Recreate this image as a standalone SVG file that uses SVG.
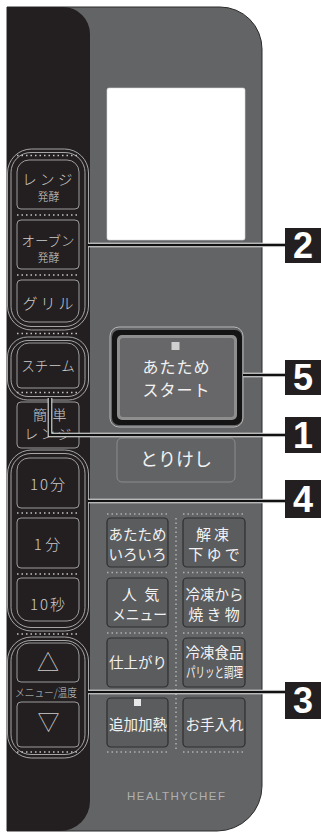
<svg xmlns="http://www.w3.org/2000/svg" width="321" height="832" viewBox="0 0 321 832">
<style>
.jp{font-family:"Noto Sans CJK JP","Noto Sans",sans-serif;text-anchor:middle}
.lt{fill:#cdcdcd;font-weight:300}
.wt{fill:#f2f2f2}
.grp{fill:none;stroke:#b4b4b4;stroke-width:0.9}
.lbtn{fill:#231f20;stroke:#a9a9a9;stroke-width:0.9}
.gbtn{fill:#5b5c5e;stroke:#2e2e2e;stroke-width:1.2}
.dotL{stroke:#c4c4c4;stroke-width:1.5;stroke-dasharray:1.5 3;fill:none}
.dotG{stroke:#b0b0b0;stroke-width:1.5;stroke-dasharray:1.5 3;fill:none}
.lbox{fill:#231f20}
.num{font-family:"Liberation Sans",Arial,sans-serif;font-weight:bold;font-size:36px;fill:#fff;text-anchor:middle}
.cw{stroke:#f0f0f0;stroke-width:4.6;fill:none}
.cb{stroke:#111;stroke-width:2.6;fill:none}
.brand{font-family:"Liberation Sans",Arial,sans-serif;font-size:11.5px;fill:#b0b0b0;text-anchor:middle}
</style>
<g id="panel">
<path d="M7,7 H220 A42,42 0 0 1 262,49 V786 A45,45 0 0 1 217,831 H7 Z" fill="#636466" stroke="#2b2b2b" stroke-width="1"/>
<path d="M7,7 H63 A27,27 0 0 1 90,34 V801 A30,30 0 0 1 60,831 H7 Z" fill="#231f20"/>
<rect x="107" y="88" width="138" height="152" rx="2" fill="#fff" stroke="#d8d8d8" stroke-width="0.6"/>
<text class="brand" x="176" y="800" textLength="98" lengthAdjust="spacing">HEALTHYCHEF</text>
</g>
<g id="group-oven">
<rect class="grp" x="7.5" y="149" width="81" height="181" rx="24"/>
<rect class="grp" x="11" y="152.5" width="74" height="174" rx="20"/>
<line class="dotL" x1="17" y1="155.5" x2="80" y2="155.5"/>
<line class="dotL" x1="17" y1="215" x2="80" y2="215"/>
<line class="dotL" x1="17" y1="275" x2="80" y2="275"/>
<line class="dotL" x1="17" y1="333.5" x2="80" y2="333.5"/>
</g>
<g id="btn-range">
<path class="lbtn" d="M29,160 H67 A12,12 0 0 1 79,172 V205 A4,4 0 0 1 75,209 H21 A4,4 0 0 1 17,205 V172 A12,12 0 0 1 29,160 Z"/>
<text class="jp lt" x="49" y="184.5" font-size="14.5" letter-spacing="3.3">レンジ</text>
<text class="jp lt" x="48.5" y="200.5" font-size="11">発酵</text>
</g>
<g id="btn-oven">
<rect class="lbtn" x="17" y="220" width="62" height="49" rx="4"/>
<text class="jp lt" x="48" y="245.5" font-size="13.5">オーブン</text>
<text class="jp lt" x="48.5" y="261.5" font-size="11">発酵</text>
</g>
<g id="btn-grill">
<path class="lbtn" d="M21,280 H75 A4,4 0 0 1 79,284 V310 A12,12 0 0 1 67,322 H29 A12,12 0 0 1 17,310 V284 A4,4 0 0 1 21,280 Z"/>
<text class="jp lt" x="49.5" y="309" font-size="15" letter-spacing="3">グリル</text>
</g>
<g id="group-steam">
<rect class="grp" x="7.5" y="337" width="81" height="63" rx="20"/>
<rect class="grp" x="11" y="340.5" width="74" height="56" rx="17"/>
<line class="dotL" x1="17" y1="392.5" x2="80" y2="392.5"/>
<path class="lbtn" d="M29,343 H67 A12,12 0 0 1 79,355 V384 A4,4 0 0 1 75,388 H21 A4,4 0 0 1 17,384 V355 A12,12 0 0 1 29,343 Z"/>
<text class="jp lt" x="48" y="371" font-size="13.5">スチーム</text>
</g>
<g id="btn-kantan">
<rect class="lbtn" x="17" y="402" width="62" height="46" rx="4"/>
<text class="jp lt" x="40" y="420" font-size="14">簡</text>
<text class="jp lt" x="59.5" y="420" font-size="14">単</text>
<text class="jp lt" x="49" y="439" font-size="14" letter-spacing="2.5">レンジ</text>
</g>
<g id="group-time">
<rect class="grp" x="7.5" y="450" width="81" height="181" rx="24"/>
<rect class="grp" x="11" y="453.5" width="74" height="174" rx="20"/>
<line class="dotL" x1="17" y1="513" x2="80" y2="513"/>
<line class="dotL" x1="17" y1="574" x2="80" y2="574"/>
<line class="dotL" x1="17" y1="634" x2="80" y2="634"/>
<path class="lbtn" d="M29,458 H67 A12,12 0 0 1 79,470 V504 A4,4 0 0 1 75,508 H21 A4,4 0 0 1 17,504 V470 A12,12 0 0 1 29,458 Z"/>
<text class="jp lt" x="48.5" y="490" font-size="15" letter-spacing="2">10分</text>
<rect class="lbtn" x="17" y="518" width="62" height="50" rx="4"/>
<text class="jp lt" x="47" y="550" font-size="15">1 分</text>
<path class="lbtn" d="M21,578 H75 A4,4 0 0 1 79,582 V609 A12,12 0 0 1 67,621 H29 A12,12 0 0 1 17,609 V582 A4,4 0 0 1 21,578 Z"/>
<text class="jp lt" x="48.5" y="610" font-size="15" letter-spacing="2">10秒</text>
</g>
<g id="group-menu">
<rect class="grp" x="7.5" y="637" width="81" height="121" rx="24"/>
<rect class="grp" x="11" y="640.5" width="74" height="114" rx="20"/>
<line class="dotL" x1="17" y1="752" x2="80" y2="752"/>
<path class="lbtn" d="M29,643 H67 A12,12 0 0 1 79,655 V678 A4,4 0 0 1 75,682 H21 A4,4 0 0 1 17,678 V655 A12,12 0 0 1 29,643 Z"/>
<text class="jp lt" x="48" y="670" font-size="22">△</text>
<text class="jp lt" x="46" y="697" font-size="11" textLength="62" lengthAdjust="spacingAndGlyphs">メニュー/温度</text>
<rect class="lbtn" x="17" y="702" width="62" height="45" rx="4"/>
<text class="jp lt" x="48.5" y="730" font-size="22">▽</text>
</g>
<g id="btn-start">
<rect x="110" y="327" width="133" height="100" rx="9" fill="none" stroke="#b8b8b8" stroke-width="1"/>
<rect x="112" y="330" width="130" height="95" rx="7" fill="#141414"/>
<rect x="117" y="335" width="120" height="85" rx="5" fill="#8e8e8e"/>
<rect x="120" y="338" width="114" height="79" rx="3" fill="#676769"/>
<rect x="171.5" y="342" width="8" height="8" fill="#cfcfcf"/>
<text class="jp wt" x="176.5" y="373" font-size="16" letter-spacing="1">あたため</text>
<text class="jp wt" x="176.5" y="395.5" font-size="16" letter-spacing="1">スタート</text>
</g>
<g id="btn-cancel">
<rect x="117" y="438" width="118" height="44" rx="5" fill="#626365" stroke="#8c8c8c" stroke-width="1"/>
<text class="jp wt" x="176" y="466" font-size="18">とりけし</text>
</g>
<g id="grid-dots">
<line class="dotG" x1="107" y1="514" x2="169" y2="514"/>
<line class="dotG" x1="183" y1="514" x2="246" y2="514"/>
<line class="dotG" x1="107" y1="572.5" x2="169" y2="572.5"/>
<line class="dotG" x1="183" y1="572.5" x2="246" y2="572.5"/>
<line class="dotG" x1="107" y1="633" x2="169" y2="633"/>
<line class="dotG" x1="183" y1="633" x2="246" y2="633"/>
<line class="dotG" x1="107" y1="752" x2="169" y2="752"/>
<line class="dotG" x1="183" y1="752" x2="246" y2="752"/>
<line class="dotG" x1="176" y1="518" x2="176" y2="750"/>
</g>
<g id="btn-atatame-iroiro">
<rect class="gbtn" x="107" y="518" width="61" height="49" rx="4"/>
<text class="jp wt" x="137.5" y="540" font-size="14.5">あたため</text>
<text class="jp wt" x="137.5" y="560" font-size="14.5">いろいろ</text>
</g>
<g id="btn-kaitou">
<rect class="gbtn" x="183" y="518" width="62" height="49" rx="4"/>
<text class="jp wt" x="214" y="540" font-size="15" letter-spacing="3">解凍</text>
<text class="jp wt" x="214" y="560" font-size="15">下 ゆ で</text>
</g>
<g id="btn-ninki">
<rect class="gbtn" x="107" y="578" width="61" height="49" rx="4"/>
<text class="jp wt" x="141.5" y="600" font-size="15" letter-spacing="2">人 気</text>
<text class="jp wt" x="139.5" y="620" font-size="15" textLength="55" lengthAdjust="spacingAndGlyphs">メニュー</text>
</g>
<g id="btn-reitou-yaki">
<rect class="gbtn" x="183" y="578" width="62" height="49" rx="4"/>
<text class="jp wt" x="214.5" y="600" font-size="14.5">冷凍から</text>
<text class="jp wt" x="214" y="620" font-size="15">焼 き 物</text>
</g>
<g id="btn-shiagari">
<rect class="gbtn" x="107" y="638" width="61" height="49" rx="4"/>
<text class="jp wt" x="138" y="668" font-size="14.5">仕上がり</text>
</g>
<g id="btn-reitou-shokuhin">
<rect class="gbtn" x="183" y="638" width="62" height="49" rx="4"/>
<text class="jp wt" x="214.5" y="658" font-size="14.5">冷凍食品</text>
<text class="jp wt" x="214.5" y="677" font-size="14" textLength="57" lengthAdjust="spacingAndGlyphs">パリッと調理</text>
</g>
<g id="btn-tsuika">
<rect class="gbtn" x="107" y="698" width="61" height="49" rx="4"/>
<rect x="134" y="699" width="7" height="7" fill="#e8e8e8"/>
<text class="jp wt" x="138" y="730" font-size="14.5">追加加熱</text>
</g>
<g id="btn-oteire">
<rect class="gbtn" x="183" y="698" width="62" height="49" rx="4"/>
<text class="jp wt" x="214.5" y="730" font-size="14.5">お手入れ</text>
</g>
<g id="connectors">
<path class="cw" d="M88,245 H286"/>
<path class="cb" d="M88,245 H286"/>
<path class="cw" d="M243,375 H286"/>
<path class="cb" d="M243,375 H286"/>
<path class="cw" d="M50,398 V435 H286"/>
<path class="cb" d="M50,398 V435 H286"/>
<path class="cw" d="M88,501 H286"/>
<path class="cb" d="M88,501 H286"/>
<path class="cw" d="M88,692 H286"/>
<path class="cb" d="M88,692 H286"/>
</g>
<g id="label-2"><rect class="lbox" x="285" y="228" width="36" height="35"/><text class="num" x="303" y="258">2</text></g>
<g id="label-5"><rect class="lbox" x="285" y="360" width="36" height="35"/><text class="num" x="303" y="390">5</text></g>
<g id="label-1"><rect class="lbox" x="285" y="417" width="36" height="36"/><text class="num" x="303" y="448">1</text></g>
<g id="label-4"><rect class="lbox" x="285" y="480" width="36" height="38"/><text class="num" x="303" y="512">4</text></g>
<g id="label-3"><rect class="lbox" x="285" y="682" width="36" height="37"/><text class="num" x="303" y="713">3</text></g>
</svg>
